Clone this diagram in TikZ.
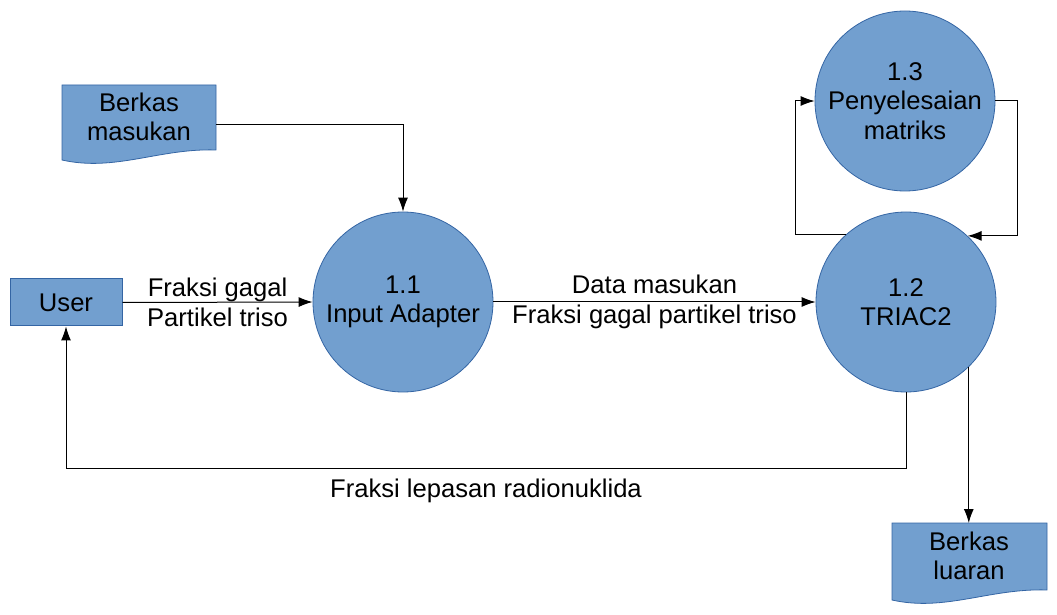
\documentclass[tikz,border=0pt]{standalone}
\usepackage{fontspec}
\setmainfont{Liberation Sans}
\usetikzlibrary{arrows.meta}
\definecolor{fillblue}{HTML}{729FCF}
\definecolor{lineblue}{HTML}{3465A4}
\tikzset{
  txt/.style={font=\fontsize{12.8}{14.8}\selectfont, align=center, inner sep=0pt},
  proc/.style={circle, fill=fillblue, draw=lineblue, line width=0.4pt, minimum size=90pt, txt},
  ent/.style={rectangle, fill=fillblue, draw=lineblue, line width=0.5pt, minimum width=56pt, minimum height=23.5pt, txt},
  docshape/.style={fill=fillblue, draw=lineblue, line width=0.4pt},
  flow/.style={line width=0.5pt, -{Latex[length=7pt,width=5pt]}},
  lab/.style={txt},
}
\begin{document}
\begin{tikzpicture}[x=0.5pt,y=-0.5pt]
\useasboundingbox (0,0) rectangle (1057,615);
% document shapes
\draw[docshape] (62,85) -- (216,85) -- (216,150) .. controls (160,148) and (115,172) .. (62,160) -- cycle;
\draw[docshape] (892,523) -- (1047,523) -- (1047,590) .. controls (990,588) and (945,612) .. (892,600) -- cycle;
\node[txt] (bm) at (139,117) {Berkas\\masukan};
\node[txt] (bl) at (969,556) {Berkas\\luaran};
\coordinate (bmr) at (216,125);
\coordinate (blt) at (968,523);
% entity
\node[ent] (user) at (66,302.5) {User};
% processes
\node[proc] (p11) at (403,302) {1.1\\Input Adapter};
\node[proc] (p12) at (906,302) {1.2\\TRIAC2};
\node[proc] (p13) at (905,101) {1.3\\Penyelesaian\\matriks};
% connectors
\draw[flow] (bmr) -| (p11.north);
\draw[flow] (user.east) -- node[lab] {Fraksi gagal\\Partikel triso} (p11.west);
\draw[flow] (p11.east) -- node[lab] {Data masukan\\Fraksi gagal partikel triso} (p12.west);
\coordinate (c1) at (906,468);
\coordinate (c2) at (66,468);
\draw[flow] (p12.south) -- (c1) -- node[lab, below=5pt] {Fraksi lepasan radionuklida} (c2) -- (user.south);
\draw[flow] (p12.-46.5) -- (p12.-46.5 |- blt);
\coordinate (l2) at (795,101);
\coordinate (r1) at (1017,101);
\draw[flow] (p12.132.8) -- (p12.132.8 -| l2) -- (l2) -- (p13.west);
\draw[flow] (p13.east) -- (r1) -- (p12.47.2 -| r1) -- (p12.47.2);
\end{tikzpicture}
\end{document}
